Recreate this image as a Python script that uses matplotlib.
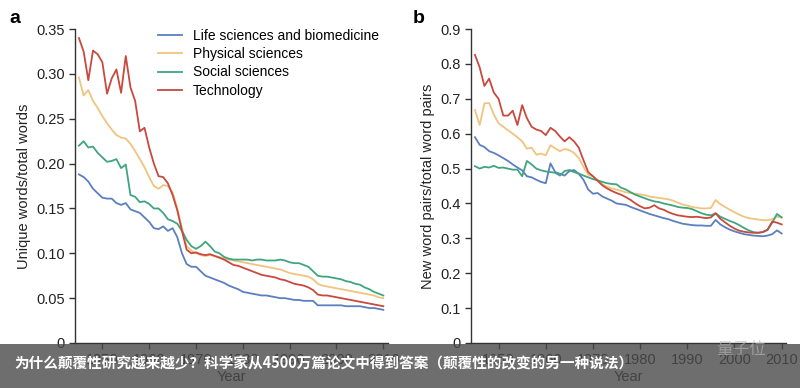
import matplotlib
matplotlib.use("Agg")
import matplotlib.pyplot as plt
from matplotlib.patches import Rectangle

plt.rcParams['font.family'] = ['Liberation Sans', 'DejaVu Sans']

years = list(range(1945, 2011))

# panel a: unique words / total words
life_a = [0.188, 0.185, 0.180, 0.172, 0.167, 0.162, 0.161, 0.161, 0.156, 0.154, 0.156, 0.149, 0.147, 0.145, 0.140,
          0.135, 0.128, 0.127, 0.130, 0.125, 0.128, 0.118, 0.100, 0.088, 0.085, 0.085, 0.080, 0.075, 0.073, 0.071,
          0.069, 0.067, 0.064, 0.062, 0.060, 0.057, 0.056, 0.055, 0.054, 0.053, 0.053, 0.052, 0.051, 0.050, 0.050,
          0.049, 0.048, 0.048, 0.047, 0.047, 0.047, 0.042, 0.042, 0.042, 0.042, 0.042, 0.042, 0.041, 0.041, 0.041,
          0.041, 0.040, 0.039, 0.039, 0.038, 0.037]
phys_a = [0.296, 0.276, 0.282, 0.270, 0.262, 0.253, 0.245, 0.238, 0.232, 0.229, 0.228, 0.222, 0.214, 0.205, 0.196,
          0.185, 0.175, 0.172, 0.176, 0.175, 0.168, 0.150, 0.128, 0.108, 0.103, 0.100, 0.098, 0.097, 0.098, 0.097,
          0.096, 0.094, 0.093, 0.092, 0.091, 0.090, 0.089, 0.088, 0.087, 0.086, 0.085, 0.084, 0.083, 0.082, 0.080,
          0.078, 0.077, 0.076, 0.075, 0.074, 0.071, 0.066, 0.064, 0.063, 0.062, 0.061, 0.060, 0.059, 0.058, 0.057,
          0.056, 0.055, 0.054, 0.053, 0.051, 0.050]
soc_a = [0.220, 0.225, 0.218, 0.219, 0.212, 0.207, 0.202, 0.203, 0.205, 0.195, 0.199, 0.165, 0.163, 0.157, 0.158,
         0.155, 0.150, 0.150, 0.145, 0.138, 0.136, 0.133, 0.125, 0.115, 0.108, 0.105, 0.108, 0.113, 0.108, 0.102,
         0.100, 0.096, 0.094, 0.093, 0.093, 0.093, 0.093, 0.092, 0.093, 0.093, 0.092, 0.092, 0.092, 0.093, 0.092,
         0.090, 0.089, 0.089, 0.087, 0.085, 0.080, 0.075, 0.074, 0.074, 0.073, 0.072, 0.071, 0.069, 0.068, 0.066,
         0.065, 0.062, 0.060, 0.057, 0.055, 0.053]
tech_a = [0.340, 0.325, 0.293, 0.326, 0.322, 0.313, 0.278, 0.295, 0.305, 0.279, 0.320, 0.285, 0.270, 0.236, 0.240,
          0.218, 0.200, 0.186, 0.185, 0.178, 0.165, 0.148, 0.125, 0.104, 0.100, 0.101, 0.099, 0.098, 0.099, 0.097,
          0.095, 0.093, 0.090, 0.087, 0.086, 0.084, 0.082, 0.080, 0.078, 0.076, 0.075, 0.074, 0.073, 0.071, 0.070,
          0.068, 0.066, 0.065, 0.064, 0.062, 0.059, 0.054, 0.053, 0.053, 0.052, 0.051, 0.050, 0.049, 0.048, 0.047,
          0.046, 0.045, 0.044, 0.043, 0.042, 0.041]

# panel b: new word pairs / total word pairs
life_b = [0.590, 0.568, 0.562, 0.550, 0.545, 0.538, 0.530, 0.522, 0.512, 0.503, 0.495, 0.478, 0.475, 0.468, 0.462,
          0.458, 0.515, 0.490, 0.485, 0.480, 0.493, 0.496, 0.485, 0.468, 0.440, 0.428, 0.430, 0.420, 0.414, 0.408,
          0.400, 0.398, 0.396, 0.390, 0.385, 0.380, 0.375, 0.370, 0.366, 0.362, 0.358, 0.355, 0.350, 0.346, 0.342,
          0.340, 0.338, 0.337, 0.337, 0.336, 0.336, 0.353, 0.340, 0.332, 0.325, 0.320, 0.316, 0.312, 0.310, 0.308,
          0.307, 0.306, 0.308, 0.312, 0.323, 0.314]
phys_b = [0.668, 0.625, 0.687, 0.688, 0.655, 0.630, 0.620, 0.610, 0.600, 0.590, 0.578, 0.557, 0.560, 0.540, 0.543,
          0.538, 0.567, 0.558, 0.550, 0.556, 0.553, 0.545, 0.530, 0.505, 0.482, 0.478, 0.468, 0.455, 0.448, 0.443,
          0.440, 0.436, 0.432, 0.430, 0.428, 0.426, 0.424, 0.420, 0.418, 0.416, 0.414, 0.412, 0.408, 0.402, 0.397,
          0.394, 0.390, 0.388, 0.386, 0.386, 0.387, 0.410, 0.398, 0.390, 0.382, 0.375, 0.368, 0.362, 0.358, 0.356,
          0.354, 0.352, 0.352, 0.355, 0.362, 0.360]
soc_b = [0.507, 0.500, 0.505, 0.503, 0.508, 0.502, 0.503, 0.500, 0.497, 0.497, 0.478, 0.522, 0.512, 0.500, 0.495,
         0.492, 0.490, 0.488, 0.480, 0.493, 0.496, 0.490, 0.486, 0.480, 0.475, 0.470, 0.466, 0.462, 0.458, 0.456,
         0.455, 0.445, 0.440, 0.432, 0.425, 0.420, 0.415, 0.410, 0.406, 0.404, 0.400, 0.397, 0.394, 0.390, 0.388,
         0.387, 0.384, 0.378, 0.372, 0.368, 0.366, 0.372, 0.362, 0.356, 0.350, 0.345, 0.338, 0.330, 0.323, 0.318,
         0.316, 0.318, 0.324, 0.345, 0.370, 0.360]
tech_b = [0.826, 0.790, 0.737, 0.758, 0.718, 0.700, 0.652, 0.652, 0.666, 0.625, 0.682, 0.645, 0.620, 0.612, 0.608,
          0.596, 0.617, 0.608, 0.592, 0.578, 0.590, 0.578, 0.560, 0.524, 0.490, 0.478, 0.465, 0.452, 0.443, 0.436,
          0.430, 0.425, 0.418, 0.410, 0.400, 0.392, 0.386, 0.388, 0.395, 0.386, 0.382, 0.375, 0.370, 0.366, 0.364,
          0.362, 0.361, 0.362, 0.360, 0.358, 0.360, 0.372, 0.356, 0.346, 0.336, 0.328, 0.322, 0.319, 0.317, 0.316,
          0.316, 0.318, 0.325, 0.348, 0.345, 0.340]

labels = ["Life sciences and biomedicine", "Physical sciences", "Social sciences", "Technology"]
colors = ["#5b7fbf", "#f0c47f", "#3fa57f", "#c8493e"]

caption = "为什么颠覆性研究越来越少？科学家从4500万篇论文中得到答案（颠覆性的改变的另一种说法）"
watermark = "量子位"

fig = plt.figure(figsize=(8, 3.88), dpi=100)
ax_a = fig.add_axes([0.094, 0.116, 0.391, 0.809])
ax_b = fig.add_axes([0.589, 0.116, 0.394, 0.809])

for series, c, lab in zip([life_a, phys_a, soc_a, tech_a], colors, labels):
    ax_a.plot(years, series, color=c, lw=1.3, label=lab)
for series, c in zip([life_b, phys_b, soc_b, tech_b], colors):
    ax_b.plot(years, series, color=c, lw=1.3)

yt_a = [0, 0.05, 0.10, 0.15, 0.20, 0.25, 0.30, 0.35]
yt_b = [0, 0.1, 0.2, 0.3, 0.4, 0.5, 0.6, 0.7, 0.8, 0.9]
ax_a.set_ylim(0, 0.35)
ax_a.set_yticks(yt_a)
ax_a.set_yticklabels(["0"] + ["%.2f" % v for v in yt_a[1:]])
ax_b.set_ylim(0, 0.9)
ax_b.set_yticks(yt_b)
ax_b.set_yticklabels(["0"] + ["%.1f" % v for v in yt_b[1:]])

for ax in [ax_a, ax_b]:
    ax.set_xlim(1944.2, 2011)
    ax.set_xticks(range(1950, 2011, 10))
    for s in ["top", "right"]:
        ax.spines[s].set_visible(False)
    for s in ["left", "bottom"]:
        ax.spines[s].set_color("#333333")
        ax.spines[s].set_linewidth(1.0)
    ax.tick_params(direction="out", length=4, width=1, color="#333333", labelsize=10.5, labelcolor="#222222")
    ax.set_xlabel("Year", fontsize=10.5, color="#222222", labelpad=2)

ax_a.set_ylabel("Unique words/total words", fontsize=10.5, color="#222222")
ax_b.set_ylabel("New word pairs/total word pairs", fontsize=10.5, color="#222222")

ax_a.legend(loc="upper left", bbox_to_anchor=(0.265, 1.0), frameon=False, fontsize=10,
            handlelength=1.75, handletextpad=0.75, labelspacing=0.3, borderpad=0, borderaxespad=0)

fig.text(0.012, 0.975, "a", fontsize=14, fontweight="bold", va="top")
fig.text(0.516, 0.975, "b", fontsize=14, fontweight="bold", va="top")

# caption band over the bottom
fig.patches.append(Rectangle((0, 0), 1, 44 / 388, transform=fig.transFigure,
                             facecolor="#4a4a4a", alpha=0.8, edgecolor="none", zorder=10))
fig.text(0.018, 0.064, caption, fontsize=10.5, color="white", va="center", fontweight="bold",
         family=["Noto Sans CJK SC", "DejaVu Sans"], zorder=11)
fig.text(0.895, 0.1, watermark, fontsize=12, color="#bbbbbb", alpha=0.6, va="center",
         family=["Noto Sans CJK SC", "DejaVu Sans"], zorder=11)

fig.savefig("out.png", dpi=100)
